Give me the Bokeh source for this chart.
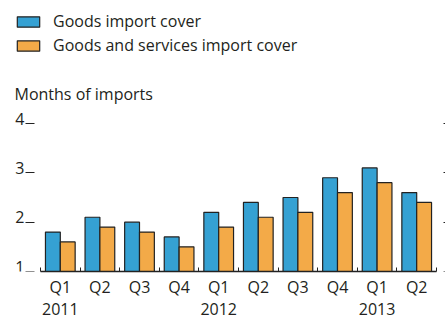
from bokeh.plotting import figure
from bokeh.models import (ColumnDataSource, Range1d, FixedTicker, LinearAxis,
                          Legend, LegendItem, Label)
from bokeh.core.properties import value
from bokeh.transform import dodge
from bokeh.embed import file_html
from bokeh.resources import INLINE

# ---- data ----
quarters = ["Q1", "Q2", "Q3", "Q4", "Q1", "Q2", "Q3", "Q4", "Q1", "Q2"]
years = {0: "2011", 4: "2012", 8: "2013"}
goods_cover = [1.8, 2.1, 2.0, 1.7, 2.2, 2.4, 2.5, 2.9, 3.1, 2.6]
goods_services_cover = [1.6, 1.9, 1.8, 1.5, 1.9, 2.1, 2.2, 2.6, 2.8, 2.4]
y_ticks = [1, 2, 3, 4]
y_tick_labels = ["1", "2", "3", "4"]

BLUE = "#35a1d3"
ORANGE = "#f3aa48"
OUTLINE = "#222222"
TEXT = "#231f20"
FONT = "Open Sans"
FS = "16px"

# ---- layout constants (pixels) ----
W, H = 445, 320
FRAME_H = 271          # expected frame height (bottom axes take the rest)
PX_PER_UNIT = 49.33    # vertical scale
PX_PER_CAT = 39.6      # width of one quarter
LEFT_PAD, RIGHT_PAD = 40, 9

n = len(quarters)
idx = list(range(n))
src = ColumnDataSource(dict(x=idx, goods=goods_cover, gs=goods_services_cover))

p = figure(width=W, height=H, title=None,
           output_backend="svg", toolbar_location=None,
           x_range=Range1d(-0.5 - LEFT_PAD / PX_PER_CAT, n - 0.5 + RIGHT_PAD / PX_PER_CAT),
           y_range=Range1d(y_ticks[0], y_ticks[0] + FRAME_H / PX_PER_UNIT),
           min_border_left=0, min_border_right=0, min_border_top=0,
           min_border_bottom=H - FRAME_H, outline_line_color=None)
p.grid.visible = False

bw = 0.375
r1 = p.vbar(x=dodge("x", -bw / 2), top="goods", bottom=y_ticks[0], width=bw,
            source=src, fill_color=BLUE, line_color=OUTLINE, line_width=1.2)
r2 = p.vbar(x=dodge("x", bw / 2), top="gs", bottom=y_ticks[0], width=bw,
            source=src, fill_color=ORANGE, line_color=OUTLINE, line_width=1.2)

# ---- x axes ----
xa = p.xaxis[0]
xa.bounds = (-0.5, n - 0.5)
xa.ticker = FixedTicker(ticks=idx, minor_ticks=[i - 0.5 for i in range(n + 1)])
xa.major_label_overrides = {i: q for i, q in enumerate(quarters)}
xa.major_tick_in = 0
xa.major_tick_out = 0
xa.minor_tick_in = 4
xa.minor_tick_out = 0
xa.minor_tick_line_color = OUTLINE
xa.axis_line_color = OUTLINE
xa.axis_line_width = 1.5
xa.major_label_standoff = 4
xa.major_label_text_font = FONT
xa.major_label_text_font_size = FS
xa.major_label_text_color = TEXT

xa2 = LinearAxis(ticker=FixedTicker(ticks=list(years.keys())),
                 major_label_overrides=years,
                 axis_line_color=None, major_tick_line_color=None,
                 minor_tick_line_color=None, major_label_standoff=-4,
                 major_label_text_font=FONT, major_label_text_font_size=FS,
                 major_label_text_color=TEXT)
p.add_layout(xa2, "below")

# ---- y axes (pinned at the edges of the bar area) ----
ya = p.yaxis[0]
ya.fixed_location = -0.5
ya.ticker = FixedTicker(ticks=y_ticks)
ya.axis_line_color = None
ya.major_tick_out = 15
ya.major_tick_in = -6
ya.major_tick_line_color = OUTLINE
ya.minor_tick_line_color = None
ya.major_label_text_alpha = 0

# tick labels sit on top of their tick marks, as in the original
p.text(x=[-0.5] * len(y_ticks), y=y_ticks, text=y_tick_labels,
       x_offset=-16, y_offset=-5, text_align="right", text_baseline="middle",
       text_font=value(FONT), text_font_size=FS, text_color=TEXT)

ya2 = LinearAxis(ticker=FixedTicker(ticks=y_ticks), axis_line_color=None,
                 fixed_location=n - 0.5,
                 major_tick_out=12, major_tick_in=-7, major_tick_line_color=OUTLINE,
                 minor_tick_line_color=None, major_label_text_alpha=0,
                 major_label_overrides={t: "" for t in y_ticks},
                 major_label_standoff=0)
p.add_layout(ya2, "right")

# ---- unit label and legend (in the empty upper part of the frame) ----
p.add_layout(Label(text="Months of imports", x=14, y=FRAME_H - 93,
                   x_units="screen", y_units="screen",
                   text_font=FONT, text_font_size=FS, text_color=TEXT,
                   text_baseline="alphabetic", text_align="left"))

legend = Legend(items=[LegendItem(label="Goods import cover", renderers=[r1]),
                       LegendItem(label="Goods and services import cover", renderers=[r2])],
                location=(14, FRAME_H - 56), orientation="vertical",
                glyph_width=28, glyph_height=13, label_standoff=11,
                label_text_font=FONT, label_text_font_size=FS, label_text_color=TEXT,
                spacing=2, padding=0, margin=0,
                border_line_color=None, background_fill_alpha=0)
p.add_layout(legend, "center")

open("out.html", "w").write(file_html(p, INLINE))
